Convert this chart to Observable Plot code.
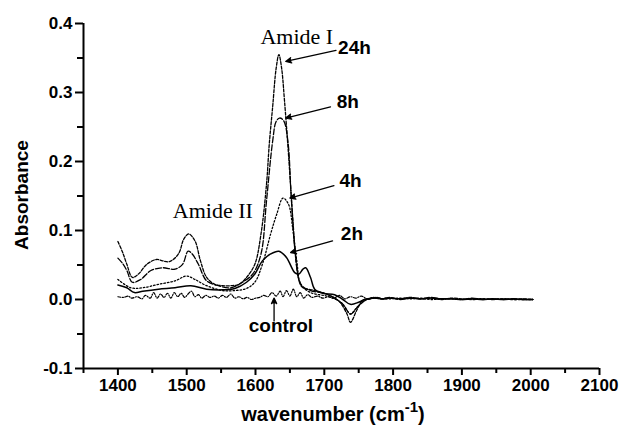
<!DOCTYPE html>
<html><head><meta charset="utf-8">
<script src="https://cdn.jsdelivr.net/npm/d3@7"></script>
<script src="https://cdn.jsdelivr.net/npm/@observablehq/plot@0.6"></script>
<style>body{margin:0;background:#fff} svg{display:block}</style>
</head><body><div id="chart"></div>
<script>
// ---- data ----
const tailW = [1775,1785,1795,1810,1825,1840,1855,1870,1885,1900,1915,1930,1945,1960,1975,1990,2003];

const wn24 = [1400,1407,1413,1421,1430,1442,1456,1465,1475,1488,1496,1503,1512,1520,1529,1541,1552,1564,1576,1587,1599,1608,1616,1620,1625,1630,1634,1638,1642,1648,1654,1660,1665,1669,1686,1703,1721,1733,1738,1747,1756,1767].concat(tailW);
const ab24 = [0.084,0.068,0.051,0.032,0.037,0.051,0.058,0.056,0.055,0.066,0.088,0.095,0.085,0.056,0.032,0.022,0.020,0.020,0.022,0.032,0.051,0.095,0.167,0.225,0.280,0.335,0.355,0.335,0.290,0.210,0.120,0.046,0.022,0.017,0.013,0.008,-0.002,-0.021,-0.033,-0.016,-0.001,0.001,
  0.003,0.001,0.002,0.001,0.003,0.001,0.002,0.000,0.002,0.001,0.000,0.001,0.000,0.001,0.000,0.001,0.000];

const wn8 = [1400,1407,1413,1421,1433,1448,1465,1483,1494,1502,1508,1517,1529,1546,1564,1581,1596,1608,1616,1625,1630,1635,1641,1647,1652,1658,1666,1680,1703,1727,1738,1750,1762].concat(tailW);
const ab8 = [0.060,0.052,0.042,0.025,0.029,0.042,0.046,0.044,0.051,0.070,0.066,0.051,0.027,0.020,0.017,0.025,0.037,0.066,0.143,0.230,0.258,0.263,0.259,0.230,0.148,0.066,0.022,0.013,0.008,-0.007,-0.021,-0.009,0.000,
  0.002,0.001,0.003,0.000,0.002,0.001,0.003,0.001,0.001,0.000,0.002,0.000,0.001,0.000,0.001,0.000,0.000];

const wn4 = [1400,1419,1436,1459,1483,1500,1512,1529,1552,1570,1587,1599,1610,1622,1631,1640,1648,1654,1660,1666,1680,1703,1724,1733,1738,1747,1759].concat(tailW);
const ab4 = [0.029,0.017,0.017,0.022,0.027,0.034,0.029,0.020,0.013,0.013,0.016,0.025,0.051,0.095,0.124,0.147,0.138,0.104,0.056,0.022,0.010,0.005,-0.004,-0.016,-0.021,-0.012,-0.001,
  0.002,0.001,0.001,0.002,0.001,0.002,0.000,0.001,0.001,0.000,0.001,0.001,0.000,0.001,0.000,0.000,0.000];

const wn2 = [1400,1413,1424,1436,1459,1483,1506,1529,1552,1570,1587,1599,1610,1622,1634,1645,1657,1663,1669,1673,1680,1686,1698,1715,1727,1738,1750,1759].concat(tailW);
const ab2 = [0.021,0.017,0.010,0.012,0.015,0.017,0.020,0.015,0.014,0.016,0.025,0.037,0.056,0.066,0.070,0.061,0.039,0.037,0.044,0.046,0.032,0.015,0.009,0.007,0.000,-0.007,-0.004,0.000,
  0.002,0.001,0.002,0.001,0.002,0.001,0.002,0.001,0.001,0.000,0.001,0.000,0.001,0.000,0.001,0.000,0.000];

const wnC = [1400,1408,1415,1420,1428,1435,1440,1447,1452,1457,1462,1467,1472,1477,1482,1487,1492,1497,1502,1507,1512,1517,1522,1528,1534,1540,1546,1552,1558,1564,1570,1576,1582,1588,1594,1600,1606,1612,1618,1624,1630,1636,1640,1645,1650,1655,1660,1665,1670,1676,1682,1690,1698,1706,1714,1722,1730,1738,1746,1754,1762,1770,1780,1790];
const abC = [0.004,0.003,0.005,0.002,0.004,0.001,0.006,0.002,0.010,0.002,0.008,0.003,0.009,0.002,0.010,0.004,0.009,0.003,0.008,0.012,0.004,0.007,0.002,0.006,0.003,0.005,0.002,0.006,0.003,0.008,0.002,0.004,0.001,0.003,0.000,0.002,0.003,0.006,0.004,0.010,0.005,0.012,0.004,0.013,0.005,0.015,0.004,0.010,0.002,0.007,0.003,0.005,0.002,0.004,0.002,0.006,0.001,0.004,0.002,0.005,0.001,0.003,0.001,0.002];

const xMajor = [1400,1500,1600,1700,1800,1900,2000,2100];
const xMinor = [1350,1450,1550,1650,1750,1850,1950,2050];
const yMajor = [-0.1,0.0,0.1,0.2,0.3,0.4];
const yMinor = [-0.05,0.05,0.15,0.25,0.35];

const timeLabels = ["24h","8h","4h","2h"];
const timeLabelX = [1720,1718,1722,1724];
const timeLabelY = [0.365,0.286,0.172,0.095];
const arrowX1 = [1717,1709,1714,1712,1627];
const arrowY1 = [0.361,0.279,0.165,0.085,-0.031];
const arrowX2 = [1644,1644,1650,1651,1627];
const arrowY2 = [0.345,0.263,0.147,0.068,0.002];
const amideText = ["Amide I","Amide II"];
const amideX = [1660,1538];
const amideY = [0.381,0.128];
const controlText = ["control"];
const controlX = [1637];
const controlY = [-0.038];

// ---- build ----
const rows = (w, a) => w.map((x, i) => ({w: x, a: a[i]}));
const seriesDefs = [
  {w: wnC, a: abC, dash: "3,1.5,1,1.5", sw: 1.2},
  {w: wn2, a: ab2, dash: null, sw: 1.5},
  {w: wn4, a: ab4, dash: "1.5,2", sw: 1.3},
  {w: wn8, a: ab8, dash: "6,2", sw: 1.3},
  {w: wn24, a: ab24, dash: "3,1.6", sw: 1.3}
];
const lineMarks = seriesDefs.map(s => Plot.line(rows(s.w, s.a), {
  x: "w", y: "a", stroke: "#000", strokeWidth: s.sw, strokeDasharray: s.dash || undefined, curve: "catmull-rom"
}));
const arrows = arrowX1.map((x, i) => ({x1: x, y1: arrowY1[i], x2: arrowX2[i], y2: arrowY2[i]}));

const plot = Plot.plot({
  width: 623, height: 433,
  marginLeft: 83, marginRight: 24, marginTop: 23, marginBottom: 65,
  style: {fontFamily: "'Liberation Sans', Arial, sans-serif", fontWeight: "bold", background: "#fff", color: "#000"},
  x: {domain: [1350, 2100]},
  y: {domain: [-0.1, 0.4]},
  marks: [
    Plot.axisX(xMinor, {tickSize: 5, strokeWidth: 2, tickFormat: () => "", label: null}),
    Plot.axisX(xMajor, {tickSize: 7, tickPadding: 3, strokeWidth: 2, fontSize: 17, fontWeight: "bold", tickFormat: d => String(d), label: null}),
    Plot.axisY(yMinor, {tickSize: 6, strokeWidth: 2, tickFormat: () => "", label: null}),
    Plot.axisY(yMajor, {tickSize: 8, tickPadding: 3, strokeWidth: 2, fontSize: 17, fontWeight: "bold", tickFormat: d => d.toFixed(1), label: null}),
    Plot.ruleX([1350], {strokeWidth: 2}),
    Plot.ruleY([-0.1], {strokeWidth: 2}),
    ...lineMarks,
    Plot.arrow(arrows, {x1: "x1", y1: "y1", x2: "x2", y2: "y2", strokeWidth: 1.3, headLength: 7, headAngle: 50}),
    Plot.text(timeLabels, {x: (d, i) => timeLabelX[i], y: (d, i) => timeLabelY[i], text: d => d, textAnchor: "start", fontSize: 19, fontWeight: "bold"}),
    Plot.text(controlText, {x: (d, i) => controlX[i], y: (d, i) => controlY[i], text: d => d, fontSize: 19, fontWeight: "bold"}),
    Plot.text(amideText, {x: (d, i) => amideX[i], y: (d, i) => amideY[i], text: d => d, fontSize: 22, fontWeight: "normal", fontFamily: "'Liberation Serif', 'Times New Roman', serif"})
  ]
});

const svg = d3.select(plot);
svg.selectAll("g[aria-label='arrow'] path").attr("fill", "#000");
svg.append("text")
  .attr("transform", "translate(23,195) rotate(-90)")
  .attr("text-anchor", "middle").attr("dominant-baseline", "middle")
  .attr("font-size", 19).attr("font-weight", "bold").attr("fill", "#000")
  .text("Absorbance");
const xt = svg.append("text")
  .attr("x", 333).attr("y", 421)
  .attr("text-anchor", "middle")
  .attr("font-size", 20).attr("font-weight", "bold").attr("fill", "#000");
xt.append("tspan").text("wavenumber (cm");
xt.append("tspan").attr("dy", -9).attr("font-size", 15).text("-1");
xt.append("tspan").attr("dy", 9).text(")");

document.getElementById("chart").appendChild(plot);
</script>
</body></html>
